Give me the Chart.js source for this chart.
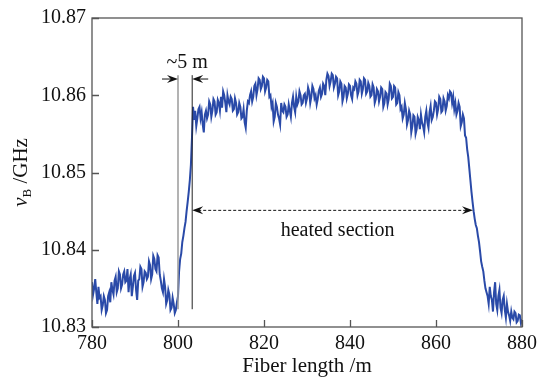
<!DOCTYPE html>
<html><head><meta charset="utf-8">
<script src="https://cdn.jsdelivr.net/npm/chart.js@4.4.1/dist/chart.umd.min.js"></script>
<style>html,body{margin:0;padding:0;background:#fff;}#wrap{width:547px;height:381px;}</style>
</head><body><div id="wrap"><canvas id="c" width="547" height="381"></canvas></div>
<script>
// Fiber positions: sampling grid start and step (m)
const fiberStart = 780, fiberStep = 0.25;
// Brillouin frequency shift values (GHz)
const bfs = [
10.8358,10.8342,10.8350,10.8362,10.8345,10.8330,10.8352,10.8338,10.8340,10.8322,10.8328,10.8340,10.8335,10.8318,10.8322,10.8340,10.8345,10.8332,10.8358,10.8348,
10.8342,10.8360,10.8365,10.8345,10.8350,10.8372,10.8368,10.8350,10.8355,10.8368,10.8372,10.8358,10.8360,10.8375,10.8345,10.8362,10.8368,10.8340,10.8352,10.8366,
10.8370,10.8348,10.8335,10.8360,10.8362,10.8378,10.8375,10.8352,10.8358,10.8372,10.8370,10.8362,10.8365,10.8385,10.8380,10.8362,10.8368,10.8392,10.8388,10.8375,
10.8372,10.8393,10.8390,10.8368,10.8360,10.8350,10.8345,10.8362,10.8352,10.8330,10.8335,10.8348,10.8342,10.8322,10.8325,10.8338,10.8330,10.8318,10.8322,10.8332,
10.8340,10.8372,10.8388,10.8395,10.8410,10.8418,10.8428,10.8436,10.8450,10.8462,10.8475,10.8490,10.8510,10.8545,10.8585,10.8568,10.8580,10.8560,10.8570,10.8582,
10.8585,10.8570,10.8578,10.8562,10.8552,10.8575,10.8580,10.8570,10.8575,10.8592,10.8588,10.8572,10.8580,10.8595,10.8592,10.8575,10.8578,10.8594,10.8590,10.8580,
10.8598,10.8584,10.8605,10.8600,10.8590,10.8578,10.8600,10.8592,10.8588,10.8598,10.8595,10.8580,10.8582,10.8596,10.8590,10.8575,10.8578,10.8590,10.8585,10.8570,
10.8572,10.8582,10.8565,10.8558,10.8580,10.8592,10.8590,10.8600,10.8605,10.8592,10.8598,10.8612,10.8615,10.8600,10.8608,10.8622,10.8620,10.8608,10.8612,10.8624,
10.8622,10.8605,10.8610,10.8620,10.8618,10.8598,10.8600,10.8585,10.8590,10.8566,10.8572,10.8590,10.8585,10.8575,10.8570,10.8562,10.8590,10.8580,10.8578,10.8588,
10.8585,10.8572,10.8575,10.8588,10.8580,10.8572,10.8590,10.8598,10.8585,10.8578,10.8598,10.8588,10.8592,10.8605,10.8600,10.8588,10.8590,10.8600,10.8602,10.8590,
10.8596,10.8610,10.8605,10.8590,10.8598,10.8612,10.8608,10.8596,10.8600,10.8588,10.8595,10.8606,10.8610,10.8598,10.8602,10.8615,10.8612,10.8600,10.8620,10.8628,
10.8625,10.8612,10.8618,10.8628,10.8626,10.8610,10.8615,10.8624,10.8622,10.8600,10.8605,10.8618,10.8615,10.8592,10.8598,10.8612,10.8610,10.8596,10.8602,10.8614,
10.8612,10.8600,10.8595,10.8610,10.8608,10.8618,10.8615,10.8600,10.8605,10.8620,10.8618,10.8602,10.8608,10.8622,10.8620,10.8602,10.8605,10.8616,10.8612,10.8598,
10.8600,10.8614,10.8610,10.8590,10.8595,10.8608,10.8605,10.8592,10.8598,10.8610,10.8608,10.8585,10.8590,10.8604,10.8602,10.8588,10.8595,10.8615,10.8612,10.8596,
10.8598,10.8612,10.8610,10.8588,10.8590,10.8604,10.8600,10.8582,10.8585,10.8570,10.8575,10.8590,10.8582,10.8562,10.8568,10.8580,10.8575,10.8552,10.8560,10.8574,
10.8572,10.8550,10.8556,10.8572,10.8568,10.8556,10.8575,10.8565,10.8560,10.8552,10.8572,10.8580,10.8565,10.8558,10.8578,10.8586,10.8568,10.8572,10.8580,10.8592,
10.8590,10.8575,10.8582,10.8598,10.8595,10.8578,10.8580,10.8596,10.8592,10.8580,10.8586,10.8600,10.8596,10.8605,10.8603,10.8590,10.8598,10.8582,10.8590,10.8575,
10.8580,10.8590,10.8585,10.8560,10.8565,10.8575,10.8570,10.8548,10.8545,10.8530,10.8520,10.8505,10.8490,10.8475,10.8462,10.8450,10.8440,10.8432,10.8428,10.8418,
10.8410,10.8398,10.8385,10.8378,10.8372,10.8360,10.8350,10.8345,10.8340,10.8330,10.8352,10.8340,10.8335,10.8320,10.8345,10.8358,10.8330,10.8322,10.8340,10.8348,
10.8325,10.8318,10.8335,10.8340,10.8322,10.8312,10.8330,10.8320,10.8315,10.8308,10.8320,10.8312,10.8310,10.8320,10.8318,10.8306,10.8308,10.8316,10.8315,10.8305,
10.8310
];
const xTicks = [780, 800, 820, 840, 860, 880];
const yTicks = [10.83, 10.84, 10.85, 10.86, 10.87];
const xTitle = "Fiber length /m";
const yTitleParts = ["v", "B", " /GHz"];
const spanLabel = "~5 m";
const heatedLabel = "heated section";
// annotation anchors (data units)
const markLeft = 800.0, markRight = 803.3;
const markTop = 10.8626, markBottom = 10.8323, markArrowY = 10.8621;
const heatedStart = 803.3, heatedEnd = 868.6, heatedY = 10.8451;

const pts = bfs.map((v, i) => ({x: fiberStart + i * fiberStep, y: v}));
const SERIF = "'Liberation Serif', 'DejaVu Serif', serif";

function arrowHead(ctx, x, y, dir) {
  const L = 11, W = 4;
  ctx.beginPath();
  ctx.moveTo(x, y);
  ctx.lineTo(x - dir * L, y - W);
  ctx.lineTo(x - dir * L * 0.65, y);
  ctx.lineTo(x - dir * L, y + W);
  ctx.closePath();
  ctx.fill();
}

const deco = {
  id: 'deco',
  afterDraw(chart) {
    const ctx = chart.ctx, a = chart.chartArea;
    const xs = chart.scales.x, ys = chart.scales.y;
    ctx.save();
    ctx.strokeStyle = '#555';
    ctx.lineWidth = 1.3;
    ctx.strokeRect(a.left, a.top, a.right - a.left, a.bottom - a.top);
    ctx.beginPath();
    xTicks.forEach(t => { const px = Math.round(xs.getPixelForValue(t)) + 0.5; ctx.moveTo(px, a.bottom); ctx.lineTo(px, a.bottom - 7); });
    yTicks.forEach(t => { const py = Math.round(ys.getPixelForValue(t)) + 0.5; ctx.moveTo(a.left, py); ctx.lineTo(a.left + 7, py); });
    ctx.stroke();

    const xl = xs.getPixelForValue(markLeft), xr = xs.getPixelForValue(markRight);
    const yt = ys.getPixelForValue(markTop), yb = ys.getPixelForValue(markBottom);
    ctx.strokeStyle = '#9a9a9a'; ctx.lineWidth = 1.5;
    ctx.beginPath(); ctx.moveTo(xl, yt); ctx.lineTo(xl, yb); ctx.stroke();
    ctx.strokeStyle = '#222'; ctx.lineWidth = 1;
    ctx.beginPath(); ctx.moveTo(xr, yt); ctx.lineTo(xr, yb); ctx.stroke();
    const ya = ys.getPixelForValue(markArrowY);
    ctx.fillStyle = '#111'; ctx.strokeStyle = '#111'; ctx.lineWidth = 1;
    ctx.beginPath(); ctx.moveTo(xl - 16, ya); ctx.lineTo(xl - 3, ya); ctx.stroke();
    arrowHead(ctx, xl, ya, 1);
    ctx.beginPath(); ctx.moveTo(xr + 16, ya); ctx.lineTo(xr + 3, ya); ctx.stroke();
    arrowHead(ctx, xr, ya, -1);
    ctx.font = '20px ' + SERIF; ctx.textAlign = 'center'; ctx.textBaseline = 'middle';
    ctx.fillText(spanLabel, (xl + xr) / 2 + 2, ya - 16);

    const hs = xs.getPixelForValue(heatedStart), he = xs.getPixelForValue(heatedEnd), hy = ys.getPixelForValue(heatedY);
    ctx.setLineDash([3, 2]);
    ctx.beginPath(); ctx.moveTo(hs + 6, hy); ctx.lineTo(he - 6, hy); ctx.stroke();
    ctx.setLineDash([]);
    arrowHead(ctx, hs, hy, -1);
    arrowHead(ctx, he, hy, 1);
    ctx.fillText(heatedLabel, (hs + he) / 2 + 5, hy + 20);

    ctx.font = '21px ' + SERIF;
    ctx.fillText(xTitle, (a.left + a.right) / 2, 366);

    ctx.translate(20, (a.top + a.bottom) / 2);
    ctx.rotate(-Math.PI / 2);
    const f1 = 'italic 21px ' + SERIF, f2 = '13px ' + SERIF, f3 = '21px ' + SERIF;
    ctx.font = f1; const w1 = ctx.measureText(yTitleParts[0]).width;
    ctx.font = f2; const w2 = ctx.measureText(yTitleParts[1]).width;
    ctx.font = f3; const w3 = ctx.measureText(yTitleParts[2]).width;
    let x0 = -(w1 + w2 + w3) / 2;
    ctx.textAlign = 'left'; ctx.textBaseline = 'alphabetic';
    ctx.font = f1; ctx.fillText(yTitleParts[0], x0, 7); x0 += w1;
    ctx.font = f2; ctx.fillText(yTitleParts[1], x0, 11); x0 += w2;
    ctx.font = f3; ctx.fillText(yTitleParts[2], x0, 7);
    ctx.restore();
  }
};

new Chart(document.getElementById('c'), {
  type: 'line',
  data: { datasets: [{ data: pts, borderColor: '#2a4aa8', borderWidth: 2, pointRadius: 0, tension: 0, fill: false }] },
  options: {
    responsive: false, animation: false, events: [],
    layout: { padding: { top: 14, right: 25, left: 0, bottom: 0 } },
    plugins: { legend: { display: false }, tooltip: { enabled: false } },
    scales: {
      x: {
        type: 'linear', min: 780, max: 880,
        afterBuildTicks: s => { s.ticks = xTicks.map(v => ({value: v})); },
        afterFit: s => { s.height = 54; },
        grid: { display: false, drawTicks: false },
        border: { display: false },
        ticks: { padding: 5, color: '#111', font: { family: SERIF, size: 20 }, maxRotation: 0, callback: v => String(v) }
      },
      y: {
        min: 10.83, max: 10.87,
        afterBuildTicks: s => { s.ticks = yTicks.map(v => ({value: v})); },
        afterFit: s => { s.width = 92; },
        grid: { display: false, drawTicks: false },
        border: { display: false },
        ticks: { padding: 6, color: '#111', font: { family: SERIF, size: 20 }, callback: v => Number(v).toFixed(2) }
      }
    }
  },
  plugins: [deco]
});
</script></body></html>
